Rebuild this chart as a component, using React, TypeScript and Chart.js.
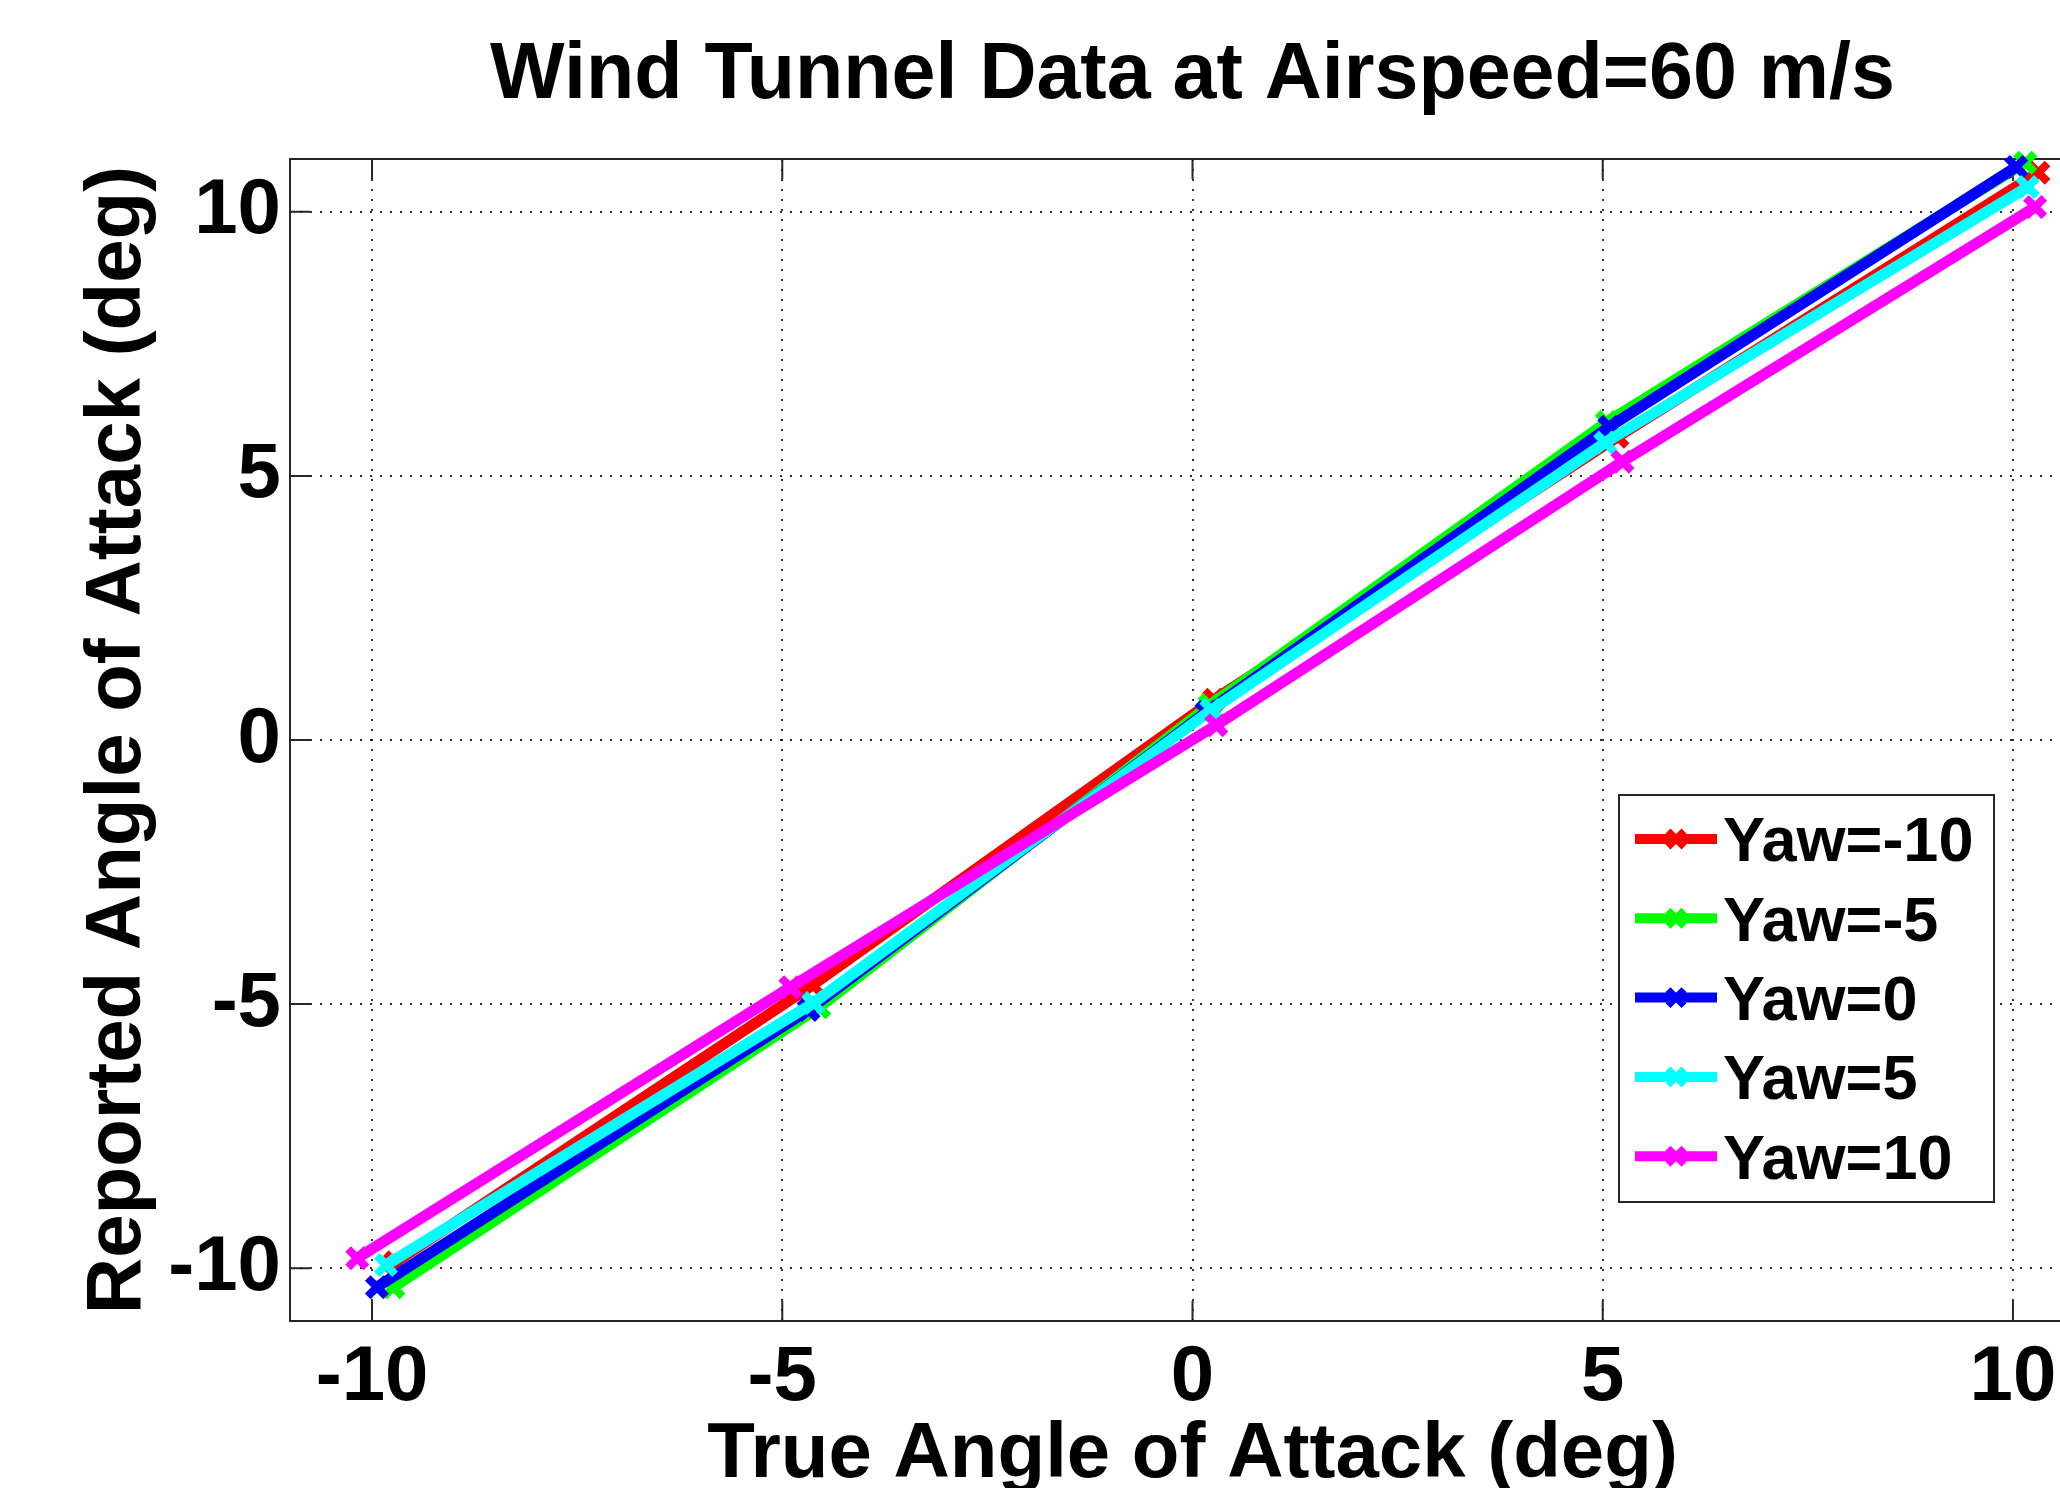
import React, { useEffect, useRef } from 'react';
import { Chart, registerables } from 'chart.js';

Chart.register(...registerables);

// ---- data ----
const chartTitle = 'Wind Tunnel Data at Airspeed=60 m/s';
const xAxisTitle = 'True Angle of Attack (deg)';
const yAxisTitle = 'Reported Angle of Attack (deg)';
const seriesLabels = ['Yaw=-10', 'Yaw=-5', 'Yaw=0', 'Yaw=5', 'Yaw=10'];
const seriesColors = ['#FF0000', '#00FF00', '#0000FF', '#00FFFF', '#FF00FF'];

const trueAoaYawM10 = [-9.72, -4.63, 0.26, 5.18, 10.31];
const reportedAoaYawM10 = [-9.89, -4.64, 0.76, 5.74, 10.74];
const trueAoaYawM5 = [-9.74, -4.55, 0.21, 5.05, 10.15];
const reportedAoaYawM5 = [-10.36, -5.06, 0.66, 6.02, 10.93];
const trueAoaYaw0 = [-9.94, -4.68, 0.17, 5.08, 10.04];
const reportedAoaYaw0 = [-10.36, -5.11, 0.53, 5.93, 10.85];
const trueAoaYaw5 = [-9.83, -4.62, 0.23, 5.03, 10.18];
const reportedAoaYaw5 = [-9.94, -4.98, 0.57, 5.63, 10.47];
const trueAoaYaw10 = [-10.18, -4.9, 0.29, 5.24, 10.27];
const reportedAoaYaw10 = [-9.81, -4.68, 0.28, 5.27, 10.09];

const xSeries = [trueAoaYawM10, trueAoaYawM5, trueAoaYaw0, trueAoaYaw5, trueAoaYaw10];
const ySeries = [reportedAoaYawM10, reportedAoaYawM5, reportedAoaYaw0, reportedAoaYaw5, reportedAoaYaw10];

const xTicks = [-10, -5, 0, 5, 10];
const yTicks = [-10, -5, 0, 5, 10];
const axisMin = -11;
const axisMax = 11;

const FONT = "'Liberation Sans', Arial, Helvetica, sans-serif";
const AXIS_COLOR = '#262626';

const axesBoxPlugin = {
  id: 'axesBox',
  beforeDatasetsDraw(chart: any) {
    const { ctx, chartArea, scales } = chart;
    const { left, right, top, bottom } = chartArea;
    const tl = 20;
    ctx.save();
    ctx.strokeStyle = AXIS_COLOR;
    ctx.lineWidth = 2;
    ctx.setLineDash([]);
    ctx.beginPath();
    xTicks.forEach((v) => {
      const px = scales.x.getPixelForValue(v);
      ctx.moveTo(px, bottom);
      ctx.lineTo(px, bottom - tl);
      ctx.moveTo(px, top);
      ctx.lineTo(px, top + tl);
    });
    yTicks.forEach((v) => {
      const py = scales.y.getPixelForValue(v);
      ctx.moveTo(left, py);
      ctx.lineTo(left + tl, py);
      ctx.moveTo(right, py);
      ctx.lineTo(right - tl, py);
    });
    ctx.stroke();
    ctx.strokeRect(left, top, right - left, bottom - top);
    ctx.restore();
  },
};

const legendPlugin = {
  id: 'matlabLegend',
  afterDatasetsDraw(chart: any) {
    const { ctx, chartArea } = chart;
    const boxL = chartArea.left + 1329;
    const boxT = chartArea.top + 636;
    const boxW = 375;
    const boxH = 407;
    const rowStart = 44;
    const rowGap = 79.3;
    ctx.save();
    ctx.fillStyle = '#FFFFFF';
    ctx.fillRect(boxL, boxT, boxW, boxH);
    ctx.strokeStyle = AXIS_COLOR;
    ctx.lineWidth = 2;
    ctx.setLineDash([]);
    ctx.strokeRect(boxL, boxT, boxW, boxH);
    chart.data.datasets.forEach((ds: any, i: number) => {
      const y = boxT + rowStart + i * rowGap;
      const x0 = boxL + 16;
      const x1 = boxL + 98;
      const xm = (x0 + x1) / 2;
      ctx.strokeStyle = ds.borderColor;
      ctx.lineWidth = 10;
      ctx.beginPath();
      ctx.moveTo(x0, y);
      ctx.lineTo(x1, y);
      ctx.stroke();
      ctx.lineWidth = 7;
      const r = 8;
      ctx.beginPath();
      ctx.moveTo(xm - r, y - r);
      ctx.lineTo(xm + r, y + r);
      ctx.moveTo(xm - r, y + r);
      ctx.lineTo(xm + r, y - r);
      ctx.stroke();
      ctx.fillStyle = '#000000';
      ctx.font = `bold 63px ${FONT}`;
      ctx.textAlign = 'left';
      ctx.textBaseline = 'middle';
      ctx.fillText(ds.label, boxL + 104, y + 5);
    });
    ctx.restore();
  },
};

export default function App() {
  const canvasRef = useRef<HTMLCanvasElement | null>(null);

  useEffect(() => {
    if (!canvasRef.current) return;
    const datasets = seriesLabels.map((label, i) => ({
      label,
      data: xSeries[i].map((x, j) => ({ x, y: ySeries[i][j] })),
      showLine: true,
      borderColor: seriesColors[i],
      backgroundColor: seriesColors[i],
      borderWidth: 11,
      pointStyle: 'crossRot',
      pointRadius: 13,
      pointHoverRadius: 13,
      pointBorderWidth: 8,
      pointBackgroundColor: seriesColors[i],
      pointBorderColor: seriesColors[i],
      tension: 0,
      fill: false,
      clip: false,
      order: seriesLabels.length - i,
    }));

    const tickFont = { family: FONT, size: 78, weight: 'bold' as const, lineHeight: 1.2 };
    const titleFont = { family: FONT, size: 78, weight: 'bold' as const, lineHeight: 1 };

    const chart = new Chart(canvasRef.current, {
      type: 'scatter',
      data: { datasets: datasets as any },
      options: {
        responsive: false,
        animation: false,
        devicePixelRatio: 1,
        layout: { padding: { left: 0, right: 8, top: 0, bottom: 0 } },
        plugins: {
          legend: { display: false },
          tooltip: { enabled: false },
          title: {
            display: true,
            text: chartTitle,
            color: '#000000',
            fullSize: false,
            font: { family: FONT, size: 79, weight: 'bold', lineHeight: 1 },
            padding: { top: 37, bottom: 43 },
          },
        },
        scales: {
          x: {
            type: 'linear',
            position: 'bottom',
            min: axisMin,
            max: axisMax,
            afterBuildTicks: (s: any) => {
              s.ticks = xTicks.map((v) => ({ value: v }));
            },
            afterFit: (s: any) => {
              s.height = 179;
            },
            ticks: {
              color: '#000000',
              font: tickFont,
              padding: 11,
              maxRotation: 0,
              autoSkip: false,
              callback: (v: any) => String(v),
            },
            grid: { color: 'rgba(0,0,0,0.8)', lineWidth: 2, drawTicks: false },
            border: { display: false, dash: [2, 8] },
            title: {
              display: true,
              text: xAxisTitle,
              color: '#000000',
              font: titleFont,
              padding: { top: 0, bottom: 5.5 },
            },
          },
          y: {
            type: 'linear',
            position: 'left',
            min: axisMin,
            max: axisMax,
            afterBuildTicks: (s: any) => {
              s.ticks = yTicks.map((v) => ({ value: v }));
            },
            afterFit: (s: any) => {
              s.width = 290;
            },
            ticks: {
              color: '#000000',
              font: tickFont,
              padding: 9,
              autoSkip: false,
              callback: (v: any) => String(v),
            },
            grid: { color: 'rgba(0,0,0,0.8)', lineWidth: 2, drawTicks: false },
            border: { display: false, dash: [2, 8] },
            title: {
              display: true,
              text: yAxisTitle,
              color: '#000000',
              font: titleFont,
              padding: { top: 79.5, bottom: 0 },
            },
          },
        },
      },
      plugins: [axesBoxPlugin, legendPlugin],
    } as any);

    return () => chart.destroy();
  }, []);

  return (
    <div
      style={{
        position: 'fixed',
        left: 0,
        top: 0,
        width: 2060,
        height: 1488,
        overflow: 'hidden',
        background: '#FFFFFF',
      }}
    >
      <canvas ref={canvasRef} width={2116} height={1500} style={{ display: 'block' }} />
    </div>
  );
}
